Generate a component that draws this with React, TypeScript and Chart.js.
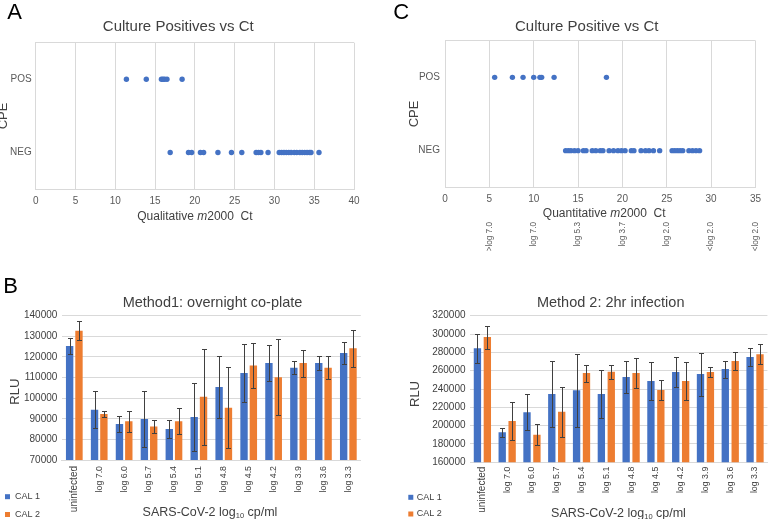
import React, { useEffect, useRef } from 'react';
import { Chart, registerables } from 'chart.js';

Chart.register(...registerables);

const FONT = "'Liberation Sans', Arial, Helvetica, sans-serif";
Chart.defaults.font.family = FONT;

const BLUE = '#4472C4';
const ORANGE = '#ED7D31';
const GRID = '#D9D9D9';
const TICK = '#595959';
const TEXT = '#404040';

// ---------- Panel A: Culture Positives vs Ct (qualitative) ----------
const cpeLevels = ['POS', 'NEG'];
const posA = [11.4, 13.9, 15.8, 16.0, 16.2, 16.5, 18.4];
const negA = [16.9, 19.2, 19.6, 20.7, 21.1, 22.9, 24.6, 25.9, 27.7, 28.0, 28.3, 29.2,
  30.6, 30.9, 31.2, 31.5, 31.8, 32.1, 32.5, 32.8, 33.2, 33.5, 33.8, 34.1, 34.4, 34.6, 35.6];

// ---------- Panel C: Culture Positive vs Ct (quantitative) ----------
const posC = [5.6, 7.6, 8.8, 10.0, 10.7, 10.9, 12.3, 18.2];
const negC = [13.6, 13.9, 14.2, 14.6, 15.0, 15.6, 15.9, 16.6, 17.0, 17.5, 17.8, 18.5, 19.0,
  19.5, 19.9, 20.3, 21.0, 21.3, 22.1, 22.6, 23.0, 23.5, 24.2, 25.6, 25.9, 26.2, 26.5, 26.8,
  27.5, 27.9, 28.3, 28.7];
const copyLabelsC = ['', '>log 7.0', 'log 7.0', 'log 5.3', 'log 3.7', 'log 2.0', '<log 2.0', '<log 2.0'];

// ---------- Panels B / D: RLU bars ----------
const dilutions = ['uninfected', 'log 7.0', 'log 6.0', 'log 5.7', 'log 5.4', 'log 5.1',
  'log 4.8', 'log 4.5', 'log 4.2', 'log 3.9', 'log 3.6', 'log 3.3'];
const seriesNames = ['CAL 1', 'CAL 2'];

const m1Cal1 = [125300, 94400, 87500, 89900, 85000, 90900, 105400, 112200, 117000, 114800, 117000, 121900];
const m1Cal1Err = [4000, 9100, 3900, 13600, 4200, 16500, 15200, 14100, 8600, 3200, 3300, 5300];
const m1Cal2 = [132700, 92300, 88800, 86200, 88800, 100700, 95400, 115800, 110100, 117000, 114800, 124200];
const m1Cal2Err = [4600, 1300, 5100, 3200, 6200, 23300, 19500, 10800, 18400, 6500, 5700, 9100];

const m2Cal1 = [284400, 192700, 214500, 234500, 238500, 234500, 253100, 248700, 258500, 256300, 261800, 274900];
const m2Cal1Err = [16000, 5000, 19500, 36500, 40000, 26000, 17000, 21000, 16500, 23500, 9300, 9500];
const m2Cal2 = [296700, 205000, 190200, 215200, 257400, 258800, 257400, 238900, 248700, 258500, 270500, 277800];
const m2Cal2Err = [12500, 21000, 11700, 27500, 9300, 7600, 16500, 10700, 20300, 5000, 9500, 11000];

// ---------- plugins ----------
type Seg = { t: string; size?: number; italic?: boolean; dy?: number };
type Note = { segs: Seg[]; x: number; y: number; size: number; color?: string; rot?: number };
type Key = { boxX: number; textX: number; ys: number[] };

function notesPlugin(notes: Note[], key?: Key) {
  return {
    id: 'notes',
    afterDraw(chart: any) {
      const ctx = chart.ctx as CanvasRenderingContext2D;
      for (const n of notes) {
        ctx.save();
        ctx.translate(n.x, n.y);
        if (n.rot) ctx.rotate(n.rot);
        const fontOf = (s: Seg) => `${s.italic ? 'italic ' : ''}${s.size ?? n.size}px ${FONT}`;
        let total = 0;
        for (const s of n.segs) {
          ctx.font = fontOf(s);
          total += ctx.measureText(s.t).width;
        }
        let cx = -total / 2;
        ctx.textAlign = 'left';
        ctx.textBaseline = 'middle';
        ctx.fillStyle = n.color ?? TEXT;
        for (const s of n.segs) {
          ctx.font = fontOf(s);
          ctx.fillText(s.t, cx, s.dy ?? 0);
          cx += ctx.measureText(s.t).width;
        }
        ctx.restore();
      }
      if (key) {
        chart.data.datasets.forEach((ds: any, i: number) => {
          const y = key.ys[i];
          ctx.save();
          ctx.fillStyle = ds.backgroundColor;
          ctx.fillRect(key.boxX, y - 2.5, 5, 5);
          ctx.fillStyle = TEXT;
          ctx.font = `9px ${FONT}`;
          ctx.textAlign = 'left';
          ctx.textBaseline = 'middle';
          ctx.fillText(ds.label, key.textX, y);
          ctx.restore();
        });
      }
    },
  };
}

function errorBarsPlugin(errs: number[][]) {
  return {
    id: 'errorBars',
    afterDatasetsDraw(chart: any) {
      const ctx = chart.ctx as CanvasRenderingContext2D;
      const y = chart.scales.y;
      chart.data.datasets.forEach((ds: any, di: number) => {
        const meta = chart.getDatasetMeta(di);
        meta.data.forEach((bar: any, i: number) => {
          const v = ds.data[i] as number;
          const e = errs[di][i];
          const top = Math.round(y.getPixelForValue(v + e)) + 0.5;
          const bot = Math.round(y.getPixelForValue(v - e)) + 0.5;
          const x = Math.round(bar.x) + 0.5;
          ctx.save();
          ctx.strokeStyle = '#404040';
          ctx.lineWidth = 1;
          ctx.beginPath();
          ctx.moveTo(x, top);
          ctx.lineTo(x, bot);
          ctx.moveTo(x - 2.5, top);
          ctx.lineTo(x + 2.5, top);
          ctx.moveTo(x - 2.5, bot);
          ctx.lineTo(x + 2.5, bot);
          ctx.stroke();
          ctx.restore();
        });
      });
    },
  };
}

const baseOpts = {
  responsive: false,
  animation: false as const,
  devicePixelRatio: 1,
  events: [] as any[],
};

const noPlugins = {
  legend: { display: false },
  tooltip: { enabled: false },
  title: { display: false },
};

function pointDs(label: string, xs: number[], level: string) {
  return {
    label,
    data: xs.map((x) => ({ x, y: level })),
    backgroundColor: BLUE,
    pointBackgroundColor: BLUE,
    pointBorderWidth: 0,
    pointRadius: 2.7,
    pointHoverRadius: 2.7,
  };
}

function yCategory(width: number, pad: number) {
  return {
    type: 'category',
    labels: cpeLevels,
    offset: true,
    ticks: { color: TICK, font: { size: 10 }, padding: pad },
    grid: {
      offset: true,
      drawTicks: false,
      color: (c: any) => (c.index === 1 ? 'rgba(0,0,0,0)' : GRID),
    },
    border: { color: GRID },
    afterFit: (s: any) => { s.width = width; },
  };
}

function configA(): any {
  return {
    type: 'scatter',
    data: { datasets: [pointDs('POS', posA, 'POS'), pointDs('NEG', negA, 'NEG')] },
    options: {
      ...baseOpts,
      layout: { padding: { left: 0, right: 31, top: 42.7, bottom: 31 } },
      plugins: noPlugins,
      scales: {
        x: {
          type: 'linear', min: 0, max: 40,
          ticks: { stepSize: 5, color: TICK, font: { size: 10 }, padding: 6, maxRotation: 0 },
          grid: { color: GRID, drawTicks: false },
          border: { color: GRID },
          afterFit: (s: any) => { s.height = 40; },
        },
        y: yCategory(35.7, 4),
      },
    },
    plugins: [notesPlugin([
      { segs: [{ t: 'A' }], x: 14.5, y: 13, size: 22, color: '#000' },
      { segs: [{ t: 'Culture Positives vs Ct' }], x: 178.3, y: 27, size: 15 },
      { segs: [{ t: 'Qualitative ' }, { t: 'm', italic: true }, { t: '2000  Ct' }], x: 194.9, y: 216.7, size: 12 },
      { segs: [{ t: 'CPE' }], x: 3.8, y: 115.9, size: 13, rot: -Math.PI / 2 },
    ])],
  };
}

function configC(): any {
  return {
    type: 'scatter',
    data: { datasets: [pointDs('POS', posC, 'POS'), pointDs('NEG', negC, 'NEG')] },
    options: {
      ...baseOpts,
      layout: { padding: { left: 0, right: 6.7, top: 40.7, bottom: 7.7 } },
      plugins: noPlugins,
      scales: {
        x: {
          type: 'linear', min: 0, max: 35, weight: 0,
          ticks: { stepSize: 5, color: TICK, font: { size: 10 }, padding: 5.7, maxRotation: 0 },
          grid: { color: GRID, drawTicks: false },
          border: { color: GRID },
          afterFit: (s: any) => { s.height = 30; },
        },
        x2: {
          type: 'linear', position: 'bottom', display: true, min: 0, max: 35, weight: 1,
          ticks: {
            stepSize: 5, autoSkip: false, minRotation: 90, maxRotation: 90, padding: 4.7,
            color: TICK, font: { size: 8.2 },
            callback: (_v: any, i: number) => copyLabelsC[i] ?? '',
          },
          grid: { display: false, drawTicks: false },
          border: { display: false },
          afterFit: (s: any) => { s.height = 35; },
        },
        y: yCategory(60, 5),
      },
    },
    plugins: [notesPlugin([
      { segs: [{ t: 'C' }], x: 16.3, y: 13, size: 22, color: '#000' },
      { segs: [{ t: 'Culture Positive vs Ct' }], x: 201.7, y: 27, size: 15 },
      { segs: [{ t: 'Quantitative ' }, { t: 'm', italic: true }, { t: '2000  Ct' }], x: 219.2, y: 213.3, size: 12 },
      { segs: [{ t: 'CPE' }], x: 29.7, y: 114, size: 13, rot: -Math.PI / 2 },
    ])],
  };
}

function barConfig(p: {
  cal1: number[]; cal2: number[]; err1: number[]; err2: number[];
  min: number; max: number; step: number;
  yWidth: number; xHeight: number; padRight: number; labelPad: number;
  catPct: number; barPct: number; notes: Note[]; key: Key;
}): any {
  const ds = (label: string, data: number[], color: string) => ({
    label, data, backgroundColor: color, borderWidth: 0,
    categoryPercentage: p.catPct, barPercentage: p.barPct,
  });
  return {
    type: 'bar',
    data: {
      labels: dilutions,
      datasets: [ds(seriesNames[0], p.cal1, BLUE), ds(seriesNames[1], p.cal2, ORANGE)],
    },
    options: {
      ...baseOpts,
      layout: { padding: { left: 0, right: p.padRight, top: 55.7, bottom: 0 } },
      plugins: noPlugins,
      scales: {
        x: {
          ticks: {
            autoSkip: false, minRotation: 90, maxRotation: 90, padding: p.labelPad, color: TEXT,
            font: (c: any) => ({ size: c.index === 0 ? 10 : 8.8 }),
          },
          grid: { display: false, drawTicks: false },
          border: { color: GRID },
          afterFit: (s: any) => { s.height = p.xHeight; },
        },
        y: {
          min: p.min, max: p.max,
          ticks: { stepSize: p.step, color: TEXT, font: { size: 10 }, padding: 4.5, callback: (v: any) => String(v) },
          grid: { color: GRID, drawTicks: false },
          border: { display: false },
          afterFit: (s: any) => { s.width = p.yWidth; },
        },
      },
    },
    plugins: [errorBarsPlugin([p.err1, p.err2]), notesPlugin(p.notes, p.key)],
  };
}

const xTitleSegs: Seg[] = [{ t: 'SARS-CoV-2 log' }, { t: '10', size: 7.5, dy: 3 }, { t: ' cp/ml' }];

function configB(): any {
  return barConfig({
    cal1: m1Cal1, cal2: m1Cal2, err1: m1Cal1Err, err2: m1Cal2Err,
    min: 70000, max: 140000, step: 10000,
    yWidth: 61.85, xHeight: 59, padRight: 24.2, labelPad: 6,
    catPct: 0.75, barPct: 0.79,
    notes: [
      { segs: [{ t: 'B' }], x: 10.5, y: 26.7, size: 22, color: '#000' },
      { segs: [{ t: 'Method1: overnight co-plate' }], x: 212.5, y: 42.7, size: 14.5 },
      { segs: xTitleSegs, x: 210, y: 253, size: 12.5 },
      { segs: [{ t: 'RLU' }], x: 15, y: 131.7, size: 13, rot: -Math.PI / 2 },
    ],
    key: { boxX: 5, textX: 15, ys: [236.7, 254.5] },
  });
}

function configD(): any {
  return barConfig({
    cal1: m2Cal1, cal2: m2Cal2, err1: m2Cal1Err, err2: m2Cal2Err,
    min: 160000, max: 320000, step: 20000,
    yWidth: 85, xHeight: 56.7, padRight: 0.2, labelPad: 4.4,
    catPct: 0.8, barPct: 0.74,
    notes: [
      { segs: [{ t: 'Method 2: 2hr infection' }], x: 225.7, y: 42.7, size: 14.5 },
      { segs: xTitleSegs, x: 233.5, y: 254, size: 12.5 },
      { segs: [{ t: 'RLU' }], x: 30, y: 134, size: 13, rot: -Math.PI / 2 },
    ],
    key: { boxX: 23.3, textX: 31.7, ys: [237.3, 254] },
  });
}

function ChartBox(props: { left: number; top: number; width: number; height: number; make: () => any }) {
  const ref = useRef<HTMLCanvasElement>(null);
  useEffect(() => {
    const chart = new Chart(ref.current as HTMLCanvasElement, props.make());
    return () => chart.destroy();
  }, []);
  return (
    <canvas
      ref={ref}
      width={props.width}
      height={props.height}
      style={{ position: 'absolute', left: props.left, top: props.top, width: props.width, height: props.height, display: 'block' }}
    />
  );
}

export default function App() {
  return (
    <div style={{ position: 'absolute', left: 0, top: 0, width: 770, height: 519, background: '#fff', overflow: 'hidden' }}>
      <ChartBox left={0} top={0} width={385} height={260} make={configA} />
      <ChartBox left={385} top={0} width={385} height={260} make={configC} />
      <ChartBox left={0} top={260} width={385} height={259} make={configB} />
      <ChartBox left={385} top={260} width={385} height={259} make={configD} />
    </div>
  );
}
